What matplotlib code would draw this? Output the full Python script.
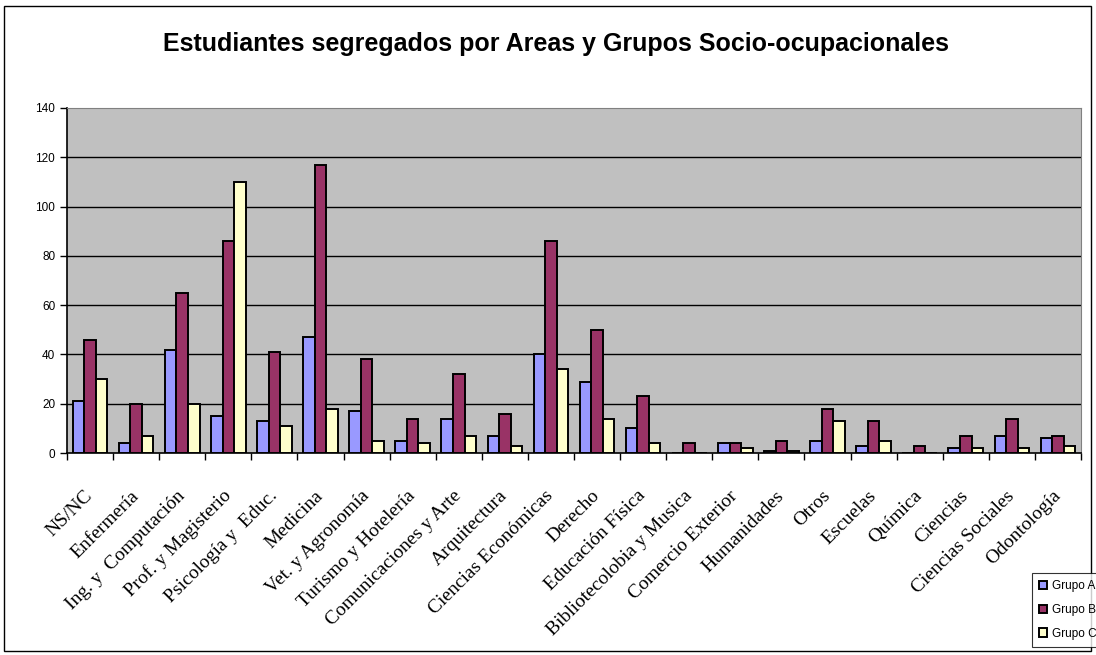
import matplotlib
matplotlib.use('Agg')
import matplotlib.pyplot as plt
import matplotlib.transforms as mtransforms
from matplotlib.patches import Rectangle
from matplotlib.ticker import FixedLocator, MultipleLocator
import numpy as np

areas = ['NS/NC', 'Enfermería', 'Ing. y  Computación', 'Prof. y Magisterio',
         'Psicología y  Educ.', 'Medicina', 'Vet. y Agronomía',
         'Turismo y Hotelería', 'Comunicaciones y Arte', 'Arquitectura',
         'Ciencias Económicas', 'Derecho', 'Educación Física',
         'Bibliotecolobia y Musica', 'Comercio Exterior', 'Humanidades',
         'Otros', 'Escuelas', 'Química', 'Ciencias', 'Ciencias Sociales',
         'Odontología']

grupo_a = [21, 4, 42, 15, 13, 47, 17, 5, 14, 7, 40, 29, 10, 0, 4, 1, 5, 3, 0, 2, 7, 6]
grupo_b = [46, 20, 65, 86, 41, 117, 38, 14, 32, 16, 86, 50, 23, 4, 4, 5, 18, 13, 3, 7, 14, 7]
grupo_c = [30, 7, 20, 110, 11, 18, 5, 4, 7, 3, 34, 14, 4, 0, 2, 1, 13, 5, 0, 2, 2, 3]

series = [('Grupo A', grupo_a, '#9999FF'),
          ('Grupo B', grupo_b, '#993366'),
          ('Grupo C', grupo_c, '#FFFFCC')]

sans = 'Liberation Sans'
serif = 'Liberation Serif'

W, H = 1096, 655
fig = plt.figure(figsize=(W/100, H/100), dpi=100)
ax = fig.add_axes([67/W, 1-453/H, 1014/W, 345/H])
ax.set_facecolor('#C0C0C0')

x = np.arange(len(areas))
w = 0.25
for i, (name, vals, col) in enumerate(series):
    ax.bar(x + (i-1)*w, vals, w, color=col, edgecolor='black',
           linewidth=1.4, label=name, zorder=3)

ax.set_xlim(-0.5, len(areas)-0.5)
ax.set_ylim(0, 140)

ax.yaxis.set_major_locator(MultipleLocator(20))
for yv in range(20, 140, 20):
    ax.axhline(yv, color='black', linewidth=1.0, zorder=1)

ax.set_xticks(x)
ax.set_xticklabels(areas, rotation=45, ha='right', va='center',
                   rotation_mode='anchor', fontfamily=serif, fontsize=14)
shift = mtransforms.ScaledTranslation(-5/100, 0, fig.dpi_scale_trans)
for lab in ax.get_xticklabels():
    lab.set_transform(lab.get_transform() + shift)
ax.xaxis.set_minor_locator(FixedLocator(np.arange(-0.5, len(areas), 1.0)))
ax.tick_params(axis='x', which='major', length=0, pad=29)
ax.tick_params(axis='x', which='minor', length=5, width=1, direction='out')
ax.tick_params(axis='y', length=5, width=1, direction='out', labelsize=8.5)
for lab in ax.get_yticklabels():
    lab.set_fontfamily(sans)

for s in ['top', 'right']:
    ax.spines[s].set_color('#808080')
for s in ['left', 'bottom']:
    ax.spines[s].set_color('black')
    ax.spines[s].set_linewidth(1.2)

fig.text(556/W, 1-44/H, 'Estudiantes segregados por Areas y Grupos Socio-ocupacionales',
         ha='center', va='center', fontsize=18, fontweight='bold', fontfamily=sans)

leg = fig.legend(loc='upper left', bbox_to_anchor=(1032/W, 1-573/H),
                 bbox_transform=fig.transFigure, borderaxespad=0,
                 prop={'family': sans, 'size': 8.5}, fancybox=False,
                 handlelength=0.7, handleheight=0.7, handletextpad=0.4,
                 labelspacing=1.0, borderpad=0.6)
leg.get_frame().set_edgecolor('black')
leg.get_frame().set_linewidth(0.8)
for h in leg.legend_handles:
    h.set_linewidth(1.4)

fig.patches.append(Rectangle((4/W, 4/H), 1087/W, 645/H,
                             transform=fig.transFigure, fill=False,
                             edgecolor='black', linewidth=1.0))

fig.savefig('out.png', dpi=100)
